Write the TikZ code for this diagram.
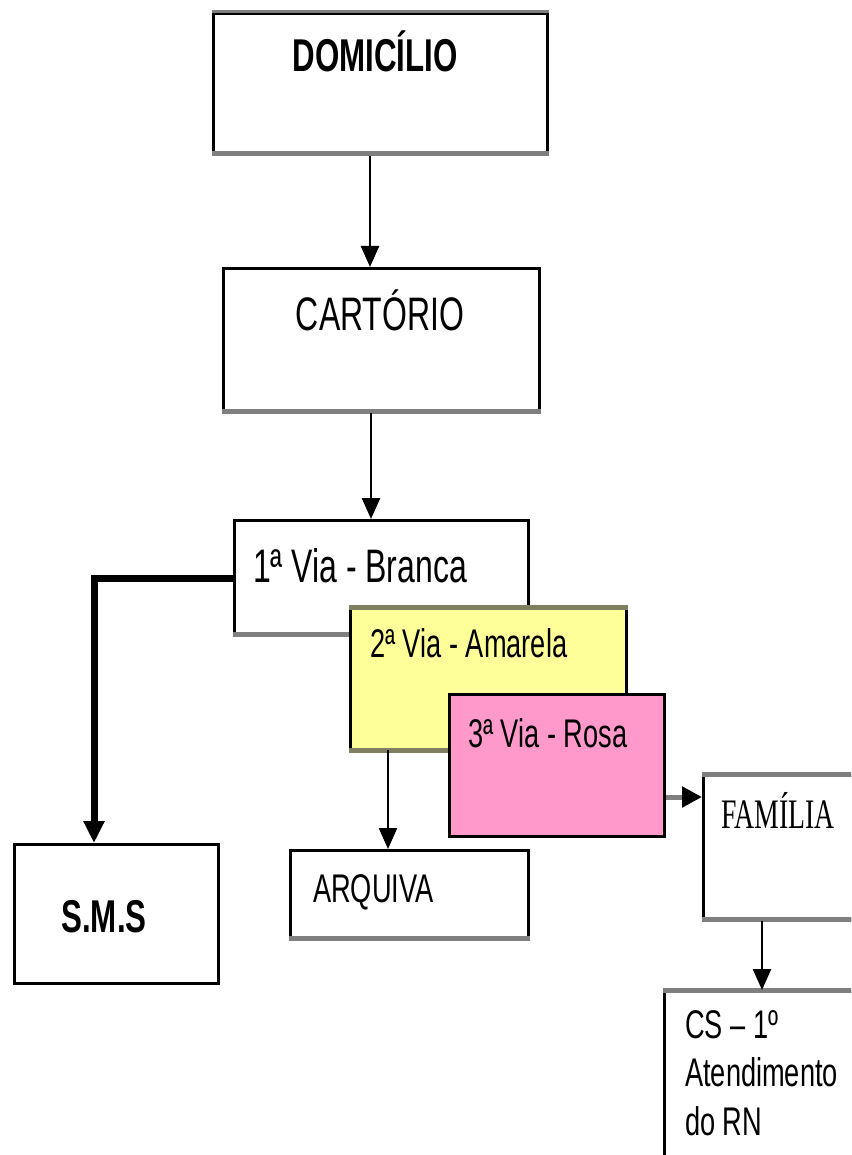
\documentclass[tikz,border=0pt]{standalone}
\usepackage{fontspec}
\setmainfont{Liberation Sans}[FakeStretch=0.68]
\newfontfamily\famfont{Liberation Serif}[FakeStretch=0.66]
\usetikzlibrary{arrows.meta}
\definecolor{amarela}{HTML}{FFFF99}
\definecolor{rosa}{HTML}{FF99CC}
\definecolor{sombra}{HTML}{7F7F7F}
\definecolor{oliva}{HTML}{808060}
\begin{document}
\begin{tikzpicture}[x=1pt,y=-1pt,
  box/.style={draw=black, line width=3pt, fill=white, rectangle, inner sep=0pt, anchor=north west},
  shade/.style={draw=sombra, line width=5pt},
  txt/.style={inner sep=0pt, font=\fontsize{47}{50}\selectfont},
  small/.style={font=\fontsize{40}{44}\selectfont},
  arr/.style={draw=black, line width=2.5pt, -{Triangle[length=21pt,width=18pt]}},
  thick arr/.style={draw=black, line width=7pt, -{Triangle[length=22pt,width=20pt]}}]
\useasboundingbox (0,0) rectangle (851,1155);
\clip (0,0) rectangle (851,1155);
\fill[white] (0,0) rectangle (851,1155);

% boxes
\node[box, minimum width=334pt, minimum height=141pt] (dom) at (212,12) {};
\draw[shade] ([yshift=2pt]dom.south west) -- ([yshift=2pt]dom.south east);
\draw[shade, line width=3pt] (dom.north west) -- (dom.north east);

\node[box, minimum width=316pt, minimum height=143pt] (cart) at (222,267) {};
\draw[shade] ([yshift=2pt]cart.south west) -- ([yshift=2pt]cart.south east);

\node[box, minimum width=294pt, minimum height=114pt] (via1) at (233,519) {};
\draw[shade] ([yshift=2pt]via1.south west) -- ([yshift=2pt]via1.south east);

\node[box, fill=amarela, minimum width=276pt, minimum height=143pt] (via2) at (349,606) {};
\draw[shade, draw=oliva] ([yshift=-1pt]via2.north west) -- ([yshift=-1pt]via2.north east);
\draw[shade, draw=oliva] ([yshift=2pt]via2.south west) -- ([yshift=2pt]via2.south east);

\node[box, fill=rosa, minimum width=215pt, minimum height=142pt] (via3) at (448,693) {};

\node[box, minimum width=238pt, minimum height=88pt] (arq) at (289,849) {};
\draw[shade] ([yshift=2pt]arq.south west) -- ([yshift=2pt]arq.south east);

\node[box, minimum width=204pt, minimum height=139pt] (sms) at (13,843) {};

\node[box, minimum width=200pt, minimum height=144pt] (fam) at (702,774) {};
\draw[shade] (fam.north west) -- (fam.north east);
\draw[shade] ([yshift=2pt]fam.south west) -- ([yshift=2pt]fam.south east);

\node[box, minimum width=250pt, minimum height=250pt] (cs) at (663,990) {};
\draw[shade] (cs.north west) -- (cs.north east);

% texts
\node[txt, anchor=base, font=\fontsize{46}{48}\selectfont\bfseries] (tdom) at (375,72) {DOMICÍLIO};
\node[txt, anchor=base] (tcart) at (380,330) {CARTÓRIO};
\node[txt, anchor=base west] (tvia1) at (253,582) {1ª Via - Branca};
\node[txt, small, anchor=base west] (tvia2) at (370,657) {2ª Via - Amarela};
\node[txt, small, anchor=base west] (tvia3) at (468,747) {3ª Via - Rosa};
\node[txt, small, anchor=base west] (tarq) at (313,902) {ARQUIVA};
\node[txt, anchor=base, font=\fontsize{46}{48}\selectfont\bfseries] (tsms) at (104,932) {S.M.S};
\node[txt, anchor=base west, font=\fontsize{42}{44}\famfont] (tfam) at (721,828) {FAMÍLIA};
\node[txt, small, anchor=base west] (tcs1) at (685,1038) {CS – 1º};
\node[txt, small, anchor=base west] (tcs2) at (685,1086) {Atendimento};
\node[txt, small, anchor=base west] (tcs3) at (685,1135) {do RN};

% connector columns
\coordinate (c1) at (370,0);
\coordinate (c2) at (371,0);
\coordinate (c3) at (388,0);
\coordinate (c4) at (762,0);
\coordinate (c5) at (94,0);
\coordinate (r1) at (0,578);
\coordinate (r2) at (0,797);

% connectors
\draw[arr] (dom.south -| c1) -- (cart.north -| c1);
\draw[arr] (cart.south -| c2) -- (via1.north -| c2);
\draw[arr] ([yshift=2pt]via2.south -| c3) -- (arq.north -| c3);
\draw[arr] (fam.south -| c4) -- (cs.north -| c4);
\draw[thick arr] (via1.west |- r1) -| (sms.north -| c5);
\draw[draw=sombra, line width=5pt, -{Triangle[length=20pt,width=20pt,color=black]}] (via3.east |- r2) -- (fam.west |- r2);
\end{tikzpicture}
\end{document}
